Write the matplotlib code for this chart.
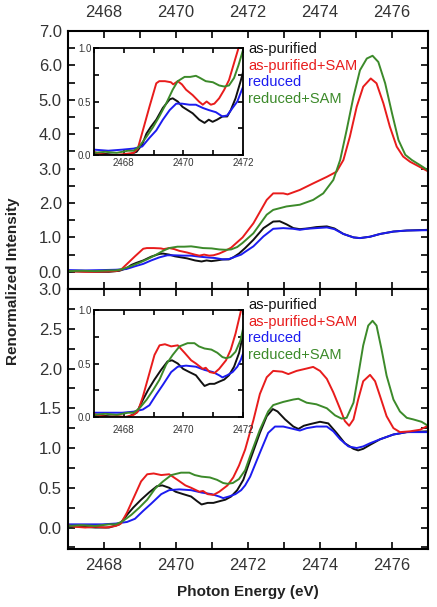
import matplotlib
matplotlib.use("Agg")
import matplotlib.pyplot as plt
from matplotlib.ticker import MultipleLocator, FormatStrFormatter

plt.rcParams['font.family'] = ['Liberation Sans', 'DejaVu Sans']

# ---- data (photon energy in eV, renormalized intensity) ----
# top panel
top_black_e = [2467.0, 2467.38, 2467.76, 2468.14, 2468.43, 2468.62, 2468.76, 2468.9, 2469.09, 2469.31,
               2469.54, 2469.64, 2469.81, 2469.97, 2470.14, 2470.31, 2470.53, 2470.71, 2470.85, 2470.98,
               2471.13, 2471.31, 2471.47, 2471.59, 2471.75, 2471.92, 2472.15, 2472.43, 2472.7, 2472.88,
               2473.07, 2473.26, 2473.44, 2473.65, 2473.9, 2474.19, 2474.4, 2474.65, 2474.93, 2475.11,
               2475.39, 2475.67, 2476.04, 2476.41, 2477.0]
top_black_i = [0.02, 0.01, 0.0, 0.0, 0.03, 0.1, 0.2, 0.26, 0.33, 0.44,
               0.52, 0.53, 0.50, 0.45, 0.42, 0.39, 0.33, 0.30, 0.33, 0.31,
               0.33, 0.36, 0.36, 0.42, 0.53, 0.69, 0.93, 1.27, 1.46, 1.47,
               1.38, 1.27, 1.24, 1.26, 1.30, 1.32, 1.26, 1.1, 1.0, 0.98,
               1.02, 1.10, 1.17, 1.2, 1.22]

top_red_e = [2467.0, 2467.19, 2467.48, 2467.76, 2468.05, 2468.33, 2468.47, 2468.64, 2468.86, 2469.09,
             2469.19, 2469.38, 2469.58, 2469.66, 2469.81, 2469.95, 2470.09, 2470.31, 2470.52, 2470.65,
             2470.78, 2470.92, 2471.04, 2471.2, 2471.37, 2471.53, 2471.7, 2471.85, 2472.15, 2472.52,
             2472.7, 2472.98, 2473.1, 2473.44, 2473.81, 2474.19, 2474.46, 2474.65, 2474.83, 2475.02,
             2475.2, 2475.41, 2475.57, 2475.76, 2475.94, 2476.13, 2476.31, 2476.5, 2476.68, 2477.0]
top_red_i = [0.03, 0.01, 0.0, 0.0, 0.01, 0.02, 0.06, 0.23, 0.45, 0.67,
             0.69, 0.69, 0.68, 0.66, 0.69, 0.66, 0.61, 0.56, 0.50, 0.47,
             0.50, 0.47, 0.48, 0.53, 0.61, 0.70, 0.86, 1.0, 1.41, 2.09,
             2.28, 2.28, 2.25, 2.38, 2.57, 2.76, 2.91, 3.25, 3.93, 4.80,
             5.38, 5.62, 5.48, 4.9, 4.22, 3.64, 3.35, 3.2, 3.1, 2.92]

top_blue_e = [2467.0, 2467.48, 2467.95, 2468.33, 2468.62, 2468.86, 2469.09, 2469.31, 2469.54, 2469.76,
              2469.95, 2470.2, 2470.42, 2470.65, 2470.85, 2471.09, 2471.31, 2471.47, 2471.65, 2471.81,
              2471.92, 2472.15, 2472.43, 2472.7, 2472.98, 2473.26, 2473.44, 2473.63, 2473.9, 2474.19,
              2474.4, 2474.65, 2474.93, 2475.11, 2475.39, 2475.67, 2476.04, 2476.41, 2477.0]
top_blue_i = [0.05, 0.04, 0.05, 0.06, 0.08, 0.16, 0.23, 0.33, 0.42, 0.48,
              0.48, 0.47, 0.47, 0.44, 0.42, 0.40, 0.36, 0.37, 0.44, 0.50,
              0.58, 0.74, 1.03, 1.25, 1.27, 1.25, 1.22, 1.25, 1.27, 1.29,
              1.24, 1.1, 1.0, 0.98, 1.02, 1.10, 1.17, 1.2, 1.21]

top_green_e = [2467.0, 2467.38, 2467.76, 2468.14, 2468.33, 2468.52, 2468.76, 2468.98, 2469.19, 2469.42,
               2469.64, 2469.81, 2470.04, 2470.23, 2470.42, 2470.56, 2470.75, 2470.99, 2471.2, 2471.37,
               2471.53, 2471.7, 2471.85, 2472.15, 2472.52, 2472.7, 2473.07, 2473.44, 2473.81, 2474.09,
               2474.37, 2474.56, 2474.74, 2474.93, 2475.11, 2475.3, 2475.46, 2475.62, 2475.81, 2476.0,
               2476.18, 2476.37, 2476.55, 2476.78, 2477.0]
top_green_i = [0.02, 0.03, 0.02, 0.04, 0.04, 0.08, 0.17, 0.26, 0.36, 0.48,
               0.61, 0.69, 0.73, 0.73, 0.74, 0.72, 0.69, 0.68, 0.65, 0.64,
               0.65, 0.72, 0.84, 1.12, 1.66, 1.80, 1.90, 1.95, 2.09, 2.28,
               2.67, 3.25, 4.12, 5.09, 5.86, 6.2, 6.28, 6.1, 5.48, 4.61,
               3.83, 3.40, 3.25, 3.1, 2.95]

# bottom panel
bot_black_e = [2467.0, 2467.38, 2467.76, 2468.14, 2468.43, 2468.64, 2468.81, 2469.03, 2469.25, 2469.47,
               2469.62, 2469.81, 2469.99, 2470.2, 2470.42, 2470.59, 2470.71, 2470.88, 2471.04, 2471.2,
               2471.37, 2471.53, 2471.7, 2471.87, 2472.06, 2472.33, 2472.52, 2472.69, 2472.82, 2473.03,
               2473.26, 2473.4, 2473.55, 2473.72, 2474.0, 2474.23, 2474.46, 2474.69, 2474.93, 2475.06,
               2475.2, 2475.39, 2475.67, 2476.04, 2476.41, 2477.0]
bot_black_i = [0.02, 0.01, 0.0, 0.0, 0.04, 0.16, 0.25, 0.35, 0.44, 0.52,
               0.53, 0.50, 0.45, 0.42, 0.39, 0.33, 0.29, 0.31, 0.31, 0.33,
               0.35, 0.39, 0.47, 0.6, 0.85, 1.19, 1.40, 1.49, 1.46, 1.36,
               1.27, 1.24, 1.28, 1.30, 1.33, 1.31, 1.19, 1.06, 0.99, 0.97,
               0.99, 1.04, 1.11, 1.17, 1.2, 1.21]

bot_red_e = [2467.0, 2467.19, 2467.48, 2467.76, 2468.05, 2468.33, 2468.47, 2468.64, 2468.86, 2469.03,
             2469.2, 2469.38, 2469.59, 2469.81, 2470.04, 2470.26, 2470.42, 2470.65, 2470.75, 2470.88,
             2471.04, 2471.2, 2471.43, 2471.59, 2471.75, 2471.92, 2472.15, 2472.33, 2472.52, 2472.7,
             2472.95, 2473.12, 2473.35, 2473.63, 2473.81, 2474.0, 2474.19, 2474.37, 2474.56, 2474.69,
             2474.81, 2474.93, 2475.06, 2475.2, 2475.39, 2475.53, 2475.67, 2475.85, 2476.04, 2476.22,
             2476.5, 2476.78, 2477.0]
bot_red_i = [0.03, 0.01, 0.0, 0.01, 0.0, 0.02, 0.05, 0.19, 0.41, 0.58,
             0.67, 0.68, 0.66, 0.67, 0.60, 0.53, 0.50, 0.45, 0.46, 0.42,
             0.41, 0.45, 0.53, 0.63, 0.78, 0.98, 1.35, 1.68, 1.89, 1.97,
             1.96, 1.93, 1.97, 2.0, 2.02, 1.97, 1.87, 1.70, 1.49, 1.34,
             1.28, 1.36, 1.61, 1.84, 1.92, 1.84, 1.65, 1.40, 1.25, 1.2,
             1.21, 1.23, 1.28]

bot_blue_e = [2467.0, 2467.48, 2467.95, 2468.33, 2468.64, 2468.86, 2469.09, 2469.31, 2469.59, 2469.81,
              2470.09, 2470.42, 2470.71, 2470.99, 2471.2, 2471.31, 2471.47, 2471.65, 2471.81, 2471.92,
              2472.06, 2472.33, 2472.56, 2472.75, 2472.98, 2473.26, 2473.44, 2473.63, 2473.9, 2474.19,
              2474.37, 2474.56, 2474.79, 2475.02, 2475.2, 2475.39, 2475.67, 2476.04, 2476.41, 2477.0]
bot_blue_i = [0.04, 0.04, 0.04, 0.05, 0.07, 0.11, 0.21, 0.30, 0.42, 0.47,
              0.48, 0.47, 0.44, 0.42, 0.39, 0.37, 0.39, 0.42, 0.47, 0.53,
              0.64, 0.94, 1.19, 1.27, 1.27, 1.24, 1.22, 1.25, 1.27, 1.27,
              1.21, 1.11, 1.02, 1.0, 1.02, 1.06, 1.11, 1.17, 1.2, 1.2]

bot_green_e = [2467.0, 2467.38, 2467.76, 2468.14, 2468.33, 2468.52, 2468.76, 2468.98, 2469.2, 2469.42,
               2469.64, 2469.87, 2470.14, 2470.37, 2470.52, 2470.71, 2470.94, 2471.14, 2471.31, 2471.43,
               2471.58, 2471.75, 2471.92, 2472.06, 2472.33, 2472.56, 2472.7, 2472.98, 2473.26, 2473.4,
               2473.63, 2473.9, 2474.19, 2474.42, 2474.6, 2474.74, 2474.93, 2475.06, 2475.2, 2475.34,
               2475.46, 2475.57, 2475.71, 2475.85, 2476.04, 2476.22, 2476.41, 2476.59, 2476.82, 2477.0]
bot_green_i = [0.02, 0.03, 0.02, 0.04, 0.04, 0.08, 0.16, 0.25, 0.35, 0.49,
               0.58, 0.66, 0.69, 0.69, 0.66, 0.64, 0.63, 0.60, 0.56, 0.55,
               0.56, 0.61, 0.72, 0.9, 1.23, 1.46, 1.54, 1.58, 1.61, 1.62,
               1.57, 1.55, 1.5, 1.41, 1.37, 1.38, 1.57, 1.91, 2.29, 2.54,
               2.60, 2.54, 2.24, 1.91, 1.61, 1.46, 1.38, 1.36, 1.33, 1.28]

labels = ['as-purified', 'as-purified+SAM', 'reduced', 'reduced+SAM']
colors = ['#111111', '#e81c1c', '#1c1cf0', '#3c8a2a']

top_series = [(top_black_e, top_black_i), (top_red_e, top_red_i),
              (top_blue_e, top_blue_i), (top_green_e, top_green_i)]
bot_series = [(bot_black_e, bot_black_i), (bot_red_e, bot_red_i),
              (bot_blue_e, bot_blue_i), (bot_green_e, bot_green_i)]

W, H = 437, 607
tick_col = '#333333'


def px_axes(left, top, right, bottom):
    return [left / W, 1 - bottom / H, (right - left) / W, (bottom - top) / H]


def draw_lines(ax, series):
    # blue drawn after black so it sits on top where they overlap
    for idx in [0, 2, 1, 3]:
        e, i = series[idx]
        ax.plot(e, i, color=colors[idx], lw=1.4, solid_joinstyle='round')


def style_axes(ax, lw=1.5, ln=5, size=12):
    for sp in ax.spines.values():
        sp.set_linewidth(lw)
    ax.tick_params(which='both', direction='in', top=True, right=True,
                   width=1.2, labelsize=size, labelcolor=tick_col)
    ax.tick_params(which='major', length=ln)
    ax.tick_params(which='minor', length=ln)


fig = plt.figure(figsize=(W / 100, H / 100), dpi=100)

# ---- top panel ----
ax1 = fig.add_axes(px_axes(68, 31, 428, 289))
draw_lines(ax1, top_series)
ax1.set_xlim(2467, 2477)
ax1.set_ylim(-0.5, 7.0)
ax1.xaxis.set_major_locator(MultipleLocator(2))
ax1.xaxis.set_minor_locator(MultipleLocator(1))
ax1.yaxis.set_major_locator(MultipleLocator(1))
ax1.yaxis.set_minor_locator(MultipleLocator(0.5))
ax1.yaxis.set_major_formatter(FormatStrFormatter('%.1f'))
style_axes(ax1)
ax1.tick_params(labeltop=True, labelbottom=False)
ax1.tick_params(axis='x', pad=8)
ax1.tick_params(axis='y', pad=4.5)

# ---- bottom panel ----
ax2 = fig.add_axes(px_axes(68, 289, 428, 549))
draw_lines(ax2, bot_series)
ax2.set_xlim(2467, 2477)
ax2.set_ylim(-0.27, 3.0)
ax2.xaxis.set_major_locator(MultipleLocator(2))
ax2.xaxis.set_minor_locator(MultipleLocator(1))
ax2.yaxis.set_major_locator(MultipleLocator(0.5))
ax2.yaxis.set_minor_locator(MultipleLocator(0.25))
ax2.yaxis.set_major_formatter(FormatStrFormatter('%.1f'))
style_axes(ax2)
ax2.tick_params(axis='x', pad=6.5)
ax2.tick_params(axis='y', pad=4.5)

# ---- insets ----
for rect, series, xpad in [((94, 48, 243, 155), top_series, 2),
                           ((94, 310, 243, 417), bot_series, 6)]:
    ins = fig.add_axes(px_axes(*rect))
    draw_lines(ins, series)
    ins.set_xlim(2467, 2472)
    ins.set_ylim(0, 1.0)
    ins.xaxis.set_major_locator(MultipleLocator(2))
    ins.xaxis.set_minor_locator(MultipleLocator(1))
    ins.yaxis.set_major_locator(MultipleLocator(0.5))
    ins.yaxis.set_minor_locator(MultipleLocator(0.25))
    ins.yaxis.set_major_formatter(FormatStrFormatter('%.1f'))
    style_axes(ins, lw=1.3, ln=3.5, size=7)
    ins.tick_params(axis='x', pad=xpad)
    ins.tick_params(axis='y', pad=2)

# ---- legends as coloured text ----
for y0 in [49, 305]:
    for k, (lab, col) in enumerate(zip(labels, colors)):
        fig.text(248 / W, 1 - (y0 + k * 16.7) / H, lab, color=col,
                 fontsize=10.5, ha='left', va='center')

fig.text(13 / W, 1 - 281 / H, 'Renormalized Intensity', rotation=90,
         fontsize=11, fontweight='bold', color='#222222', ha='center', va='center')
fig.text(247.5 / W, 1 - 592 / H, 'Photon Energy (eV)',
         fontsize=11, fontweight='bold', color='#222222', ha='center', va='center')

fig.savefig('out.png', dpi=100)
